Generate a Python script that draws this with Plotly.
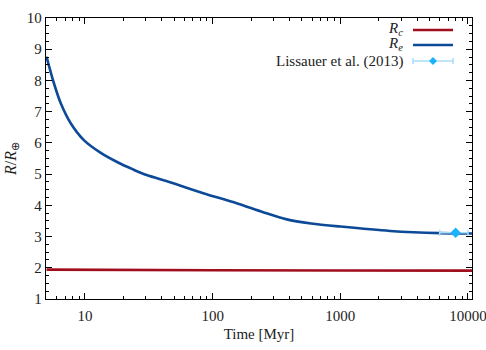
import numpy as np
import plotly.graph_objects as go

# Data
time_e = [5, 5.71, 6.46, 7.73, 9.8, 13.3, 18.0, 23.8, 30.4, 46.4, 84.4, 154, 249, 381, 590, 1000, 2450, 6000, 10750]
radius_e = [8.76, 7.91, 7.27, 6.63, 6.09, 5.68, 5.38, 5.15, 4.97, 4.74, 4.39, 4.07, 3.78, 3.55, 3.42, 3.32, 3.18, 3.11, 3.10]
time_c = [5, 10, 100, 1000, 10750]
radius_c = [1.94, 1.93, 1.92, 1.915, 1.91]
obs_time = [8000]
obs_time_err = [2000]
obs_radius = [3.12]
obs_radius_err = [0.06]

red = "#a00d1c"
blue = "#0c4a98"
lblue = "#1eb2fb"
ebar = "#a9dcf7"
font = "Liberation Serif, Times New Roman, serif"
fs = 15

fig = go.Figure()
fig.add_trace(go.Scatter(x=time_c, y=radius_c, mode="lines", line=dict(color=red, width=2.6), showlegend=False))
fig.add_trace(go.Scatter(x=time_e, y=radius_e, mode="lines", line=dict(color=blue, width=2.6, shape="spline", smoothing=0.8), showlegend=False))
fig.add_trace(go.Scatter(x=obs_time, y=obs_radius, mode="markers",
                         marker=dict(symbol="diamond", size=8, color=lblue),
                         error_x=dict(type="data", array=obs_time_err, color=ebar, thickness=1.5, width=3),
                         error_y=dict(type="data", array=obs_radius_err, color=ebar, thickness=1.5, width=3),
                         showlegend=False))

# Manual legend (text left of sample, like the reference)
labels = ["<i>R</i><sub><i>c</i></sub>", "<i>R</i><sub><i>e</i></sub>", "Lissauer et al. (2013)"]
rows = [29, 44, 61]  # pixel rows
W, H = 486, 350
L, R, T, B = 46, 14, 18, 51
pw, ph = W - L - R, H - T - B
def px(x):
    return (x - L) / pw
def py(y):
    return 1 - (y - T) / ph
x0, x1 = 413, 453
for i, (lab, yr) in enumerate(zip(labels, rows)):
    fig.add_annotation(xref="paper", yref="paper", x=px(405), y=py(yr), text=lab, showarrow=False,
                       xanchor="right", yanchor="middle", font=dict(family=font, size=fs, color="#222"))
    yl = rows[i] + (1 if i < 2 else 0)
    if i < 2:
        fig.add_shape(type="line", xref="paper", yref="paper", x0=px(x0), x1=px(x1), y0=py(yl), y1=py(yl),
                      line=dict(color=[red, blue][i], width=2.6))
    else:
        fig.add_shape(type="line", xref="paper", yref="paper", x0=px(x0), x1=px(x1), y0=py(yl), y1=py(yl),
                      line=dict(color=ebar, width=1.5))
        for xc in (x0, x1):
            fig.add_shape(type="line", xref="paper", yref="paper", x0=px(xc), x1=px(xc), y0=py(yl - 3), y1=py(yl + 3),
                          line=dict(color=ebar, width=1.5))
        xm = (x0 + x1) / 2
        fig.add_shape(type="path", xref="paper", yref="paper",
                      path=f"M {px(xm-4)} {py(yl)} L {px(xm)} {py(yl-4)} L {px(xm+4)} {py(yl)} L {px(xm)} {py(yl+4)} Z",
                      fillcolor=lblue, line=dict(width=0))

axis_common = dict(showline=True, linecolor="black", linewidth=1.3, mirror="allticks", ticks="inside",
                   tickcolor="black", showgrid=False, zeroline=False, ticklabeloverflow="allow",
                   automargin=False, tickfont=dict(family=font, size=fs, color="#222"))
fig.update_xaxes(type="log", range=[np.log10(4.95), np.log10(10750)], tickvals=[10, 100, 1000, 10000],
                 ticktext=["10", "100", "1000", "10000"], ticklen=6, ticklabelstandoff=3,
                 minor=dict(ticks="inside", dtick="D1", ticklen=3, tickcolor="black", showgrid=False),
                 title=dict(text="Time [Myr]", font=dict(family=font, size=fs, color="#222"), standoff=5),
                 **axis_common)
fig.update_yaxes(range=[1, 10], dtick=1, ticklen=6,
                 minor=dict(ticks="inside", dtick=0.25, ticklen=3, tickcolor="black", showgrid=False),
                 title=dict(text="<i>R</i>/<i>R</i><sub>⊕</sub>", font=dict(family=font, size=16, color="#222"), standoff=6),
                 **axis_common)
fig.update_layout(width=W, height=H, margin=dict(l=L, r=R, t=T, b=B, autoexpand=False), plot_bgcolor="white",
                  paper_bgcolor="white", showlegend=False)
fig.write_html("out.html", config={"displayModeBar": False},
               post_script="document.body.style.margin='0';")
